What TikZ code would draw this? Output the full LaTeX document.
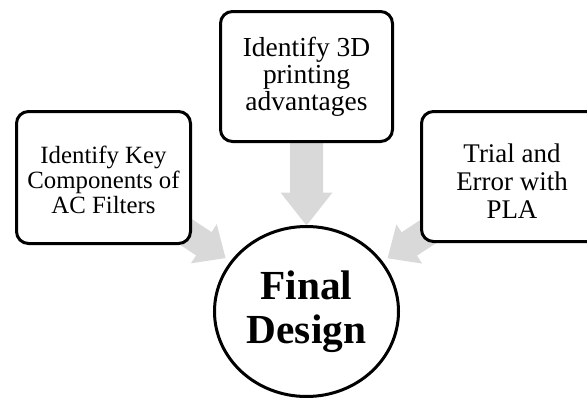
\documentclass[tikz,border=0pt]{standalone}
\usepackage{fontspec}
\setmainfont{Liberation Serif}
\usetikzlibrary{shapes.geometric,calc,backgrounds}

% block arrow: tail, tip, half shaft width, half head width, head length
\newcommand\blockarrow[5]{%
  \coordinate (hb) at ($(#2)!#5!(#1)$);
  \fill[flow] ($(#1)!#3!90:(#2)$) -- ($(hb)!#3!90:(#2)$) -- ($(hb)!#4!90:(#2)$)
    -- (#2) -- ($(hb)!#4!-90:(#2)$) -- ($(hb)!#3!-90:(#2)$)
    -- ($(#1)!#3!-90:(#2)$) -- cycle;%
}

\begin{document}
\begin{tikzpicture}[x=0.75pt,y=-0.75pt,
  stepbox/.style={draw=black, line width=2.25pt, rounded corners=9pt,
    fill=white, align=center, inner sep=0pt},
  goal/.style={ellipse, draw=black, line width=2.25pt, fill=white,
    align=center, inner sep=0pt, minimum width=138pt, minimum height=127.5pt,
    font=\fontsize{31}{33}\selectfont\bfseries},
  flow/.style={fill=gray!30, draw=none}]
\useasboundingbox (0,0) rectangle (587,400);

% outcome in the middle
\node[goal] (final) at (306.5,311.5) {Final\\Design};

% three inputs
\node[stepbox, minimum width=130.5pt, minimum height=99pt,
  font=\fontsize{18.6}{18.8}\selectfont] (keys) at (103.5,177.5)
  {\rule{0pt}{16.5pt}Identify Key\\Components of\\AC Filters};
\node[stepbox, minimum width=129pt, minimum height=97.5pt,
  font=\fontsize{20.6}{20.3}\selectfont] (print) at (306.5,76.5)
  {Identify 3D\\printing\\advantages};
\node[stepbox, minimum width=135.75pt, minimum height=97.5pt,
  font=\fontsize{20.2}{21}\selectfont] (trial) at (512,176.5)
  {\rule{0pt}{21.3pt}Trial and\\Error with\\PLA};

% grey arrows behind the shapes
\begin{scope}[on background layer]
  \coordinate (tipP) at ($(final.center)!64.5pt!(print.center)$);
  \coordinate (tipK) at ($(final.center)!72.75pt!(keys.center)$);
  \coordinate (tipT) at ($(final.center)!72.75pt!(trial.center)$);
  \blockarrow{print.center}{tipP}{12.375pt}{19.5pt}{24.75pt}
  \blockarrow{keys.center}{tipK}{10.5pt}{17.6pt}{19.5pt}
  \blockarrow{trial.center}{tipT}{10.5pt}{17.6pt}{19.5pt}
\end{scope}
\end{tikzpicture}
\end{document}
